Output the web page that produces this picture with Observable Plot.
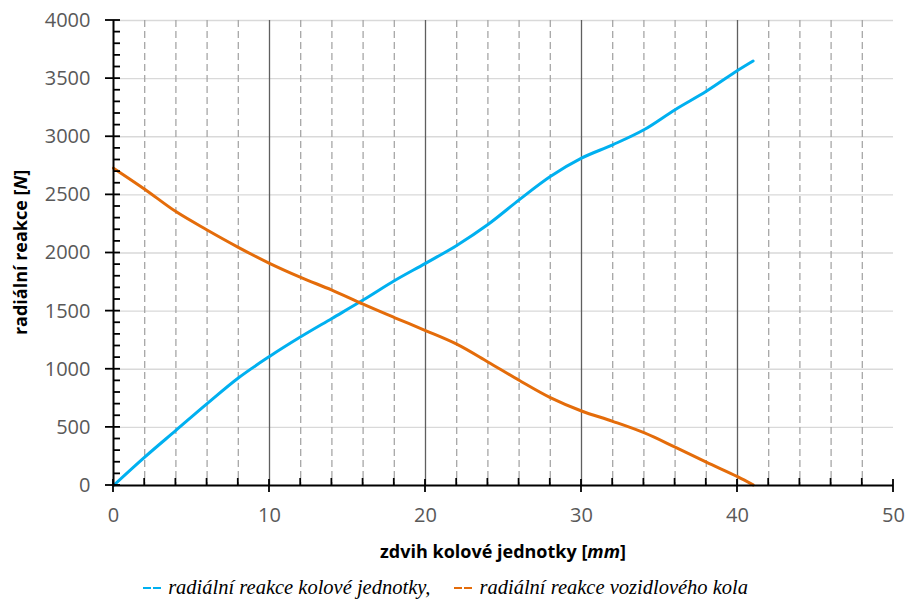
<!DOCTYPE html>
<html>
<head>
<meta charset="utf-8">
<script src="https://cdn.jsdelivr.net/npm/d3@7"></script>
<script src="https://cdn.jsdelivr.net/npm/@observablehq/plot@0.6"></script>
<style>
  html, body { margin: 0; padding: 0; background: #fff; }
  #legend {
    width: 907px; box-sizing: border-box; padding-right: 16px;
    text-align: center; font-family: "Liberation Serif", "DejaVu Serif", serif;
    font-style: italic; font-size: 20.5px; line-height: 24px; color: #000;
    margin-top: 7px;
  }
  #legend .bar { display: inline-block; width: 8px; height: 2px; margin-right: 2px; vertical-align: 5px; }
</style>
</head>
<body>
<div id="chart"></div>
<div id="legend"></div>
<script>
// ---- data ----
const xValues = [0, 2, 4, 6, 8, 10, 12, 14, 16, 18, 20, 22, 24, 26, 28, 30, 32, 34, 36, 38, 40, 41];
const kolovaJednotka = [0, 244, 474, 704, 925, 1110, 1279, 1437, 1595, 1761, 1911, 2065, 2245, 2457, 2658, 2816, 2931, 3060, 3233, 3391, 3570, 3652];
const vozidloveKolo  = [2730, 2549, 2356, 2198, 2049, 1911, 1790, 1681, 1560, 1445, 1333, 1216, 1063, 905, 756, 641, 552, 454, 330, 201, 76, 5];
const seriesNames = ["radiální reakce kolové jednotky,", "radiální reakce vozidlového kola"];
const seriesColors = ["#00B0F0", "#E46C0A"];
const xMajorTicks = [0, 10, 20, 30, 40, 50];
const xMinorTicks = [2, 4, 6, 8, 12, 14, 16, 18, 22, 24, 26, 28, 32, 34, 36, 38, 42, 44, 46, 48];
const yMajorTicks = [0, 500, 1000, 1500, 2000, 2500, 3000, 3500, 4000];
const yMinorTicks = d3.range(0, 4001, 100).filter(v => v % 500 !== 0);
const xTitle = ["zdvih kolové jednotky [", "mm", "]"];
const yTitle = ["radiální reakce [", "N", "]"];

const blue = xValues.map((x, i) => ({x, y: kolovaJednotka[i]}));
const orange = xValues.map((x, i) => ({x, y: vozidloveKolo[i]}));

const font = "'Open Sans', 'Noto Sans', sans-serif";
const tickColor = "#595959";
const fmt = d => String(d);

const W = 907, H = 568, ML = 113, MR = 14, MT = 20, MB = 83;

const plot = Plot.plot({
  width: W,
  height: H,
  marginLeft: ML,
  marginRight: MR,
  marginTop: MT,
  marginBottom: MB,
  style: {fontFamily: font, background: "#fff"},
  x: {domain: [0, 50], label: null, axis: null},
  y: {domain: [0, 4000], label: null, axis: null},
  marks: [
    // gridlines
    Plot.ruleY(yMajorTicks.filter(v => v > 0), {y: d => d, stroke: "#d9d9d9", strokeWidth: 1.3}),
    Plot.ruleX(xMinorTicks, {x: d => d, stroke: "#a6a6a6", strokeWidth: 1.3, strokeDasharray: "7,4"}),
    Plot.ruleX(xMajorTicks.filter(v => v > 0 && v < 50), {x: d => d, stroke: "#5f5f5f", strokeWidth: 1.3}),
    // data lines
    Plot.line(blue, {x: "x", y: "y", stroke: seriesColors[0], strokeWidth: 3, curve: "catmull-rom"}),
    Plot.line(orange, {x: "x", y: "y", stroke: seriesColors[1], strokeWidth: 3, curve: "catmull-rom"}),
    // axis lines
    Plot.ruleY([0], {y: d => d, stroke: "#000", strokeWidth: 2}),
    Plot.ruleX([0], {x: d => d, stroke: "#000", strokeWidth: 2}),
    // tick labels
    Plot.axisX({ticks: xMajorTicks, tickSize: 0, tickPadding: 22, fontSize: 20, fill: tickColor, tickFormat: fmt, label: null}),
    Plot.axisY({ticks: yMajorTicks, tickSize: 0, tickPadding: 23, fontSize: 20, fill: tickColor, tickFormat: fmt, label: null})
  ]
});

document.getElementById("chart").appendChild(plot);

// tick marks, positioned through Plot's own scales
const svg = d3.select(plot);
const sx = plot.scale("x"), sy = plot.scale("y");
const x0 = sx.apply(0), y0 = sy.apply(0);
const tg = svg.append("g").attr("stroke", "#000").attr("stroke-width", 1.8);
xMinorTicks.forEach(v => tg.append("line").attr("x1", sx.apply(v)).attr("x2", sx.apply(v)).attr("y1", y0 - 7).attr("y2", y0));
xMajorTicks.forEach(v => tg.append("line").attr("x1", sx.apply(v)).attr("x2", sx.apply(v)).attr("y1", y0 - 6).attr("y2", y0 + 7));
yMinorTicks.forEach(v => tg.append("line").attr("y1", sy.apply(v)).attr("y2", sy.apply(v)).attr("x1", x0).attr("x2", x0 + 7));
yMajorTicks.forEach(v => tg.append("line").attr("y1", sy.apply(v)).attr("y2", sy.apply(v)).attr("x1", x0 - 8).attr("x2", x0 + 7));

// axis titles with italic units
function addTitle(parts, attrs) {
  const t = svg.append("text")
    .attr("font-family", font)
    .attr("font-size", 18)
    .attr("font-weight", "bold")
    .attr("fill", "#000")
    .attr("text-anchor", "middle");
  Object.entries(attrs).forEach(([k, v]) => t.attr(k, v));
  parts.forEach((p, i) => {
    const s = t.append("tspan").text(p);
    if (i === 1) s.attr("font-style", "italic");
  });
}
addTitle(xTitle, {x: (sx.apply(0) + sx.apply(50)) / 2, y: 558});
addTitle(yTitle, {transform: `translate(27,${(sy.apply(0) + sy.apply(4000)) / 2}) rotate(-90)`});

// legend
const legend = document.getElementById("legend");
seriesNames.forEach((name, i) => {
  for (let k = 0; k < 2; k++) {
    const b = document.createElement("span");
    b.className = "bar";
    b.style.background = seriesColors[i];
    legend.appendChild(b);
  }
  legend.appendChild(document.createTextNode(" " + name));
  if (i < seriesNames.length - 1) {
    const gap = document.createElement("span");
    gap.style.display = "inline-block";
    gap.style.width = "24px";
    legend.appendChild(gap);
  }
});
</script>
</body>
</html>
